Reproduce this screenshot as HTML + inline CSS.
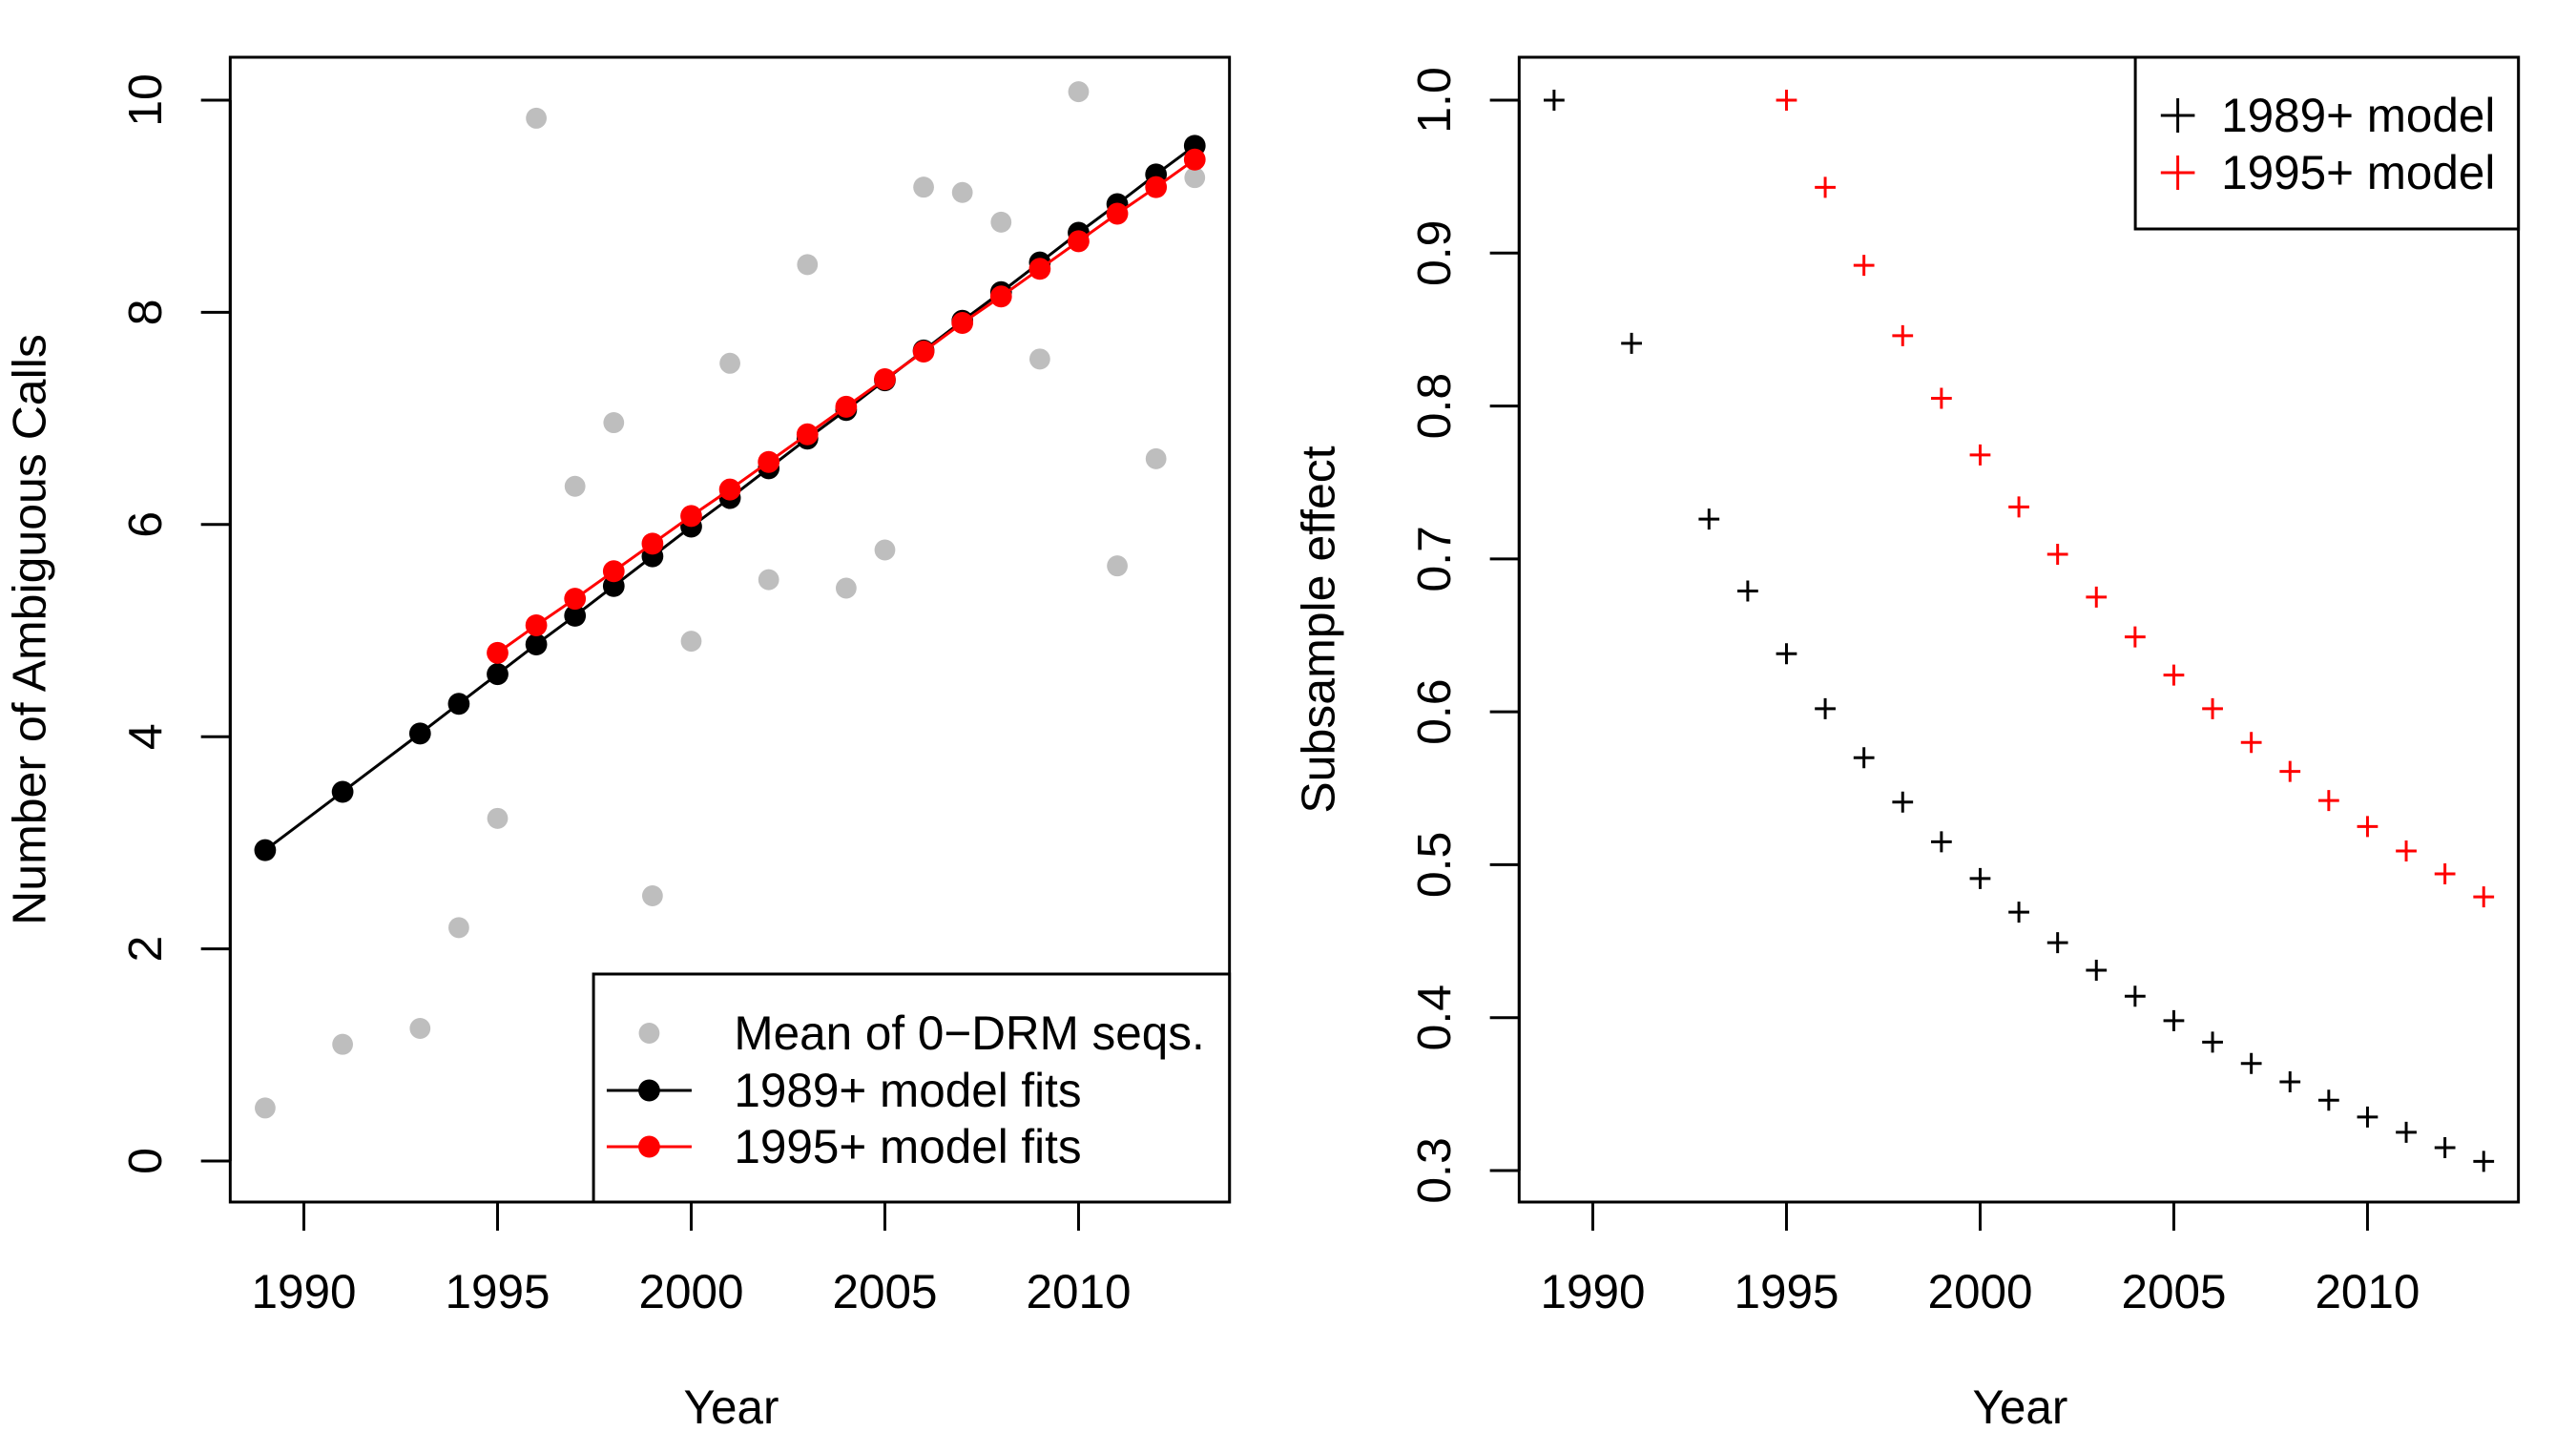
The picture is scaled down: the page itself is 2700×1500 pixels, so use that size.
<!DOCTYPE html>
<html><head><meta charset="utf-8"><style>
html,body{margin:0;padding:0;background:#fff;}
svg{display:block;font-family:"Liberation Sans",Arial,sans-serif;}
</style></head><body>
<svg id="chart" width="2700" height="1500" viewBox="0 0 2700 1500" xmlns="http://www.w3.org/2000/svg"><g id="root" transform="scale(0.989,1)"></g></svg>
<script>
const yearsAll = [1989,1991,1993,1994,1995,1996,1997,1998,1999,2000,2001,2002,2003,2004,2005,2006,2007,2008,2009,2010,2011,2012,2013];
const years95 = [1995,1996,1997,1998,1999,2000,2001,2002,2003,2004,2005,2006,2007,2008,2009,2010,2011,2012,2013];
const meanZeroDRM = [0.5,1.1,1.25,2.2,3.23,9.83,6.36,6.96,2.5,4.9,7.52,5.48,8.45,5.4,5.76,9.18,9.13,8.85,7.56,10.08,5.61,6.62,9.27];
const fit1989 = [2.93,3.48,4.03,4.31,4.59,4.87,5.14,5.42,5.70,5.98,6.25,6.53,6.81,7.08,7.36,7.64,7.92,8.19,8.47,8.75,9.02,9.30,9.57];
const fit1995 = [4.79,5.05,5.30,5.56,5.82,6.08,6.33,6.59,6.85,7.11,7.37,7.63,7.90,8.15,8.41,8.67,8.93,9.18,9.44];
const sub1989 = [1.0,0.841,0.726,0.679,0.638,0.602,0.570,0.541,0.515,0.491,0.469,0.449,0.431,0.414,0.398,0.384,0.370,0.358,0.346,0.335,0.325,0.315,0.306];
const sub1995 = [1.0,0.943,0.892,0.846,0.805,0.768,0.734,0.703,0.675,0.649,0.624,0.602,0.580,0.561,0.542,0.525,0.509,0.494,0.479];
const xTicks = [1990,1995,2000,2005,2010];
const yTicksL = [0,2,4,6,8,10];
const yTicksR = [0.3,0.4,0.5,0.6,0.7,0.8,0.9,1.0];

const NS="http://www.w3.org/2000/svg";
const svg=document.getElementById('root');
function mk(tag,attrs,parent,text){const e=document.createElementNS(NS,tag);for(const k in attrs)e.setAttribute(k,attrs[k]);if(text!==undefined)e.textContent=text;(parent||svg).appendChild(e);return e;}

const TOP=60, BOT=1260, FS=50;
function panel(off, yMin, yMax, y0px, y1px, yTicks, yFmt, ytitle, name){
  const g=mk('g',{});
  
  
  const X=v=>off+281+(v-1989)*41.05;
  const Y=v=>y0px+(v-yMin)/(yMax-yMin)*(y1px-y0px);
  const box=mk('rect',{x:off+244,y:TOP,width:1059,height:BOT-TOP,fill:'none',stroke:'#000','stroke-width':3},g);
  
  
  const xa=mk('g',{},g);
  
  
  mk('line',{x1:X(xTicks[0]),x2:X(xTicks[xTicks.length-1]),y1:BOT,y2:BOT,stroke:'#000','stroke-width':3},xa);
  xTicks.forEach(t=>{
    mk('line',{x1:X(t),x2:X(t),y1:BOT,y2:BOT+30,stroke:'#000','stroke-width':3},xa);
    const tl=mk('text',{x:X(t),y:1371,'font-size':FS,'text-anchor':'middle'},xa,String(t));
    
    
  });
  const xt=mk('text',{x:off+775,y:1492,'font-size':FS,'text-anchor':'middle'},g,'Year');
  
  
  const ya=mk('g',{},g);
  
  
  mk('line',{x1:off+244,x2:off+244,y1:Y(yTicks[0]),y2:Y(yTicks[yTicks.length-1]),stroke:'#000','stroke-width':3},ya);
  yTicks.forEach(t=>{
    mk('line',{x1:off+213,x2:off+244,y1:Y(t),y2:Y(t),stroke:'#000','stroke-width':3},ya);
    const tl=mk('text',{x:0,y:0,'font-size':FS,'text-anchor':'middle',transform:`translate(${off+171},${Y(t)}) rotate(-90)`},ya,yFmt(t));
    
    
  });
  const yt=mk('text',{x:0,y:0,'font-size':FS,'text-anchor':'middle',transform:`translate(${off+48},660) rotate(-90)`},g,ytitle);
  
  
  return {g,X,Y};
}

// Left panel
const L=panel(0,0,10,1217,105,yTicksL,t=>String(t),'Number of Ambiguous Calls','left-panel');
yearsAll.forEach((yr,i)=>{
  const c=mk('circle',{cx:L.X(yr),cy:L.Y(meanZeroDRM[i]),r:11,fill:'#bebebe'},L.g);
  
  
});
function lineSeries(xs,ys,color,name){
  const p=mk('polyline',{points:xs.map((x,i)=>L.X(x)+','+L.Y(ys[i])).join(' '),fill:'none',stroke:color,'stroke-width':3},L.g);
  
  
  xs.forEach((x,i)=>{
    const c=mk('circle',{cx:L.X(x),cy:L.Y(ys[i]),r:11.5,fill:color},L.g);
    
    
  });
}
lineSeries(yearsAll,fit1989,'#000','fit-1989');
lineSeries(years95,fit1995,'#ff0000','fit-1995');
// left legend
const lg=mk('g',{});


mk('rect',{x:629,y:1021,width:674,height:239,fill:'#fff',stroke:'#000','stroke-width':3},lg);
mk('circle',{cx:688,cy:1083,r:11,fill:'#bebebe'},lg);
mk('line',{x1:643,x2:733,y1:1143,y2:1143,stroke:'#000','stroke-width':3},lg);
mk('circle',{cx:688,cy:1143,r:11.5,fill:'#000'},lg);
mk('line',{x1:643,x2:733,y1:1202,y2:1202,stroke:'#ff0000','stroke-width':3},lg);
mk('circle',{cx:688,cy:1202,r:11.5,fill:'#ff0000'},lg);
[['Mean of 0\u2212DRM seqs.',1083],['1989+ model fits',1143],['1995+ model fits',1202]].forEach(([t,y])=>{
  const e=mk('text',{x:778,y:y+17,'font-size':FS},lg,t);
  
  
});

// Right panel
const R=panel(1366,0.3,1.0,1227,105,yTicksR,t=>t.toFixed(1),'Subsample effect','right-panel');
function plus(g,x,y,h,color,name){
  const p=mk('path',{d:`M${x-h},${y}H${x+h}M${x},${y-h}V${y+h}`,stroke:color,'stroke-width':3,fill:'none'},g);
  
  
}
yearsAll.forEach((yr,i)=>plus(R.g,R.X(yr),R.Y(sub1989[i]),11,'#000','subsample-1989-point'));
years95.forEach((yr,i)=>plus(R.g,R.X(yr),R.Y(sub1995[i]),11,'#ff0000','subsample-1995-point'));
const rg=mk('g',{});


mk('rect',{x:2263,y:60,width:406,height:180,fill:'#fff',stroke:'#000','stroke-width':3},rg);
plus(rg,2308,121,18,'#000','legend-marker');
plus(rg,2308,181,18,'#ff0000','legend-marker');
[['1989+ model',121],['1995+ model',181]].forEach(([t,y])=>{
  const e=mk('text',{x:2354,y:y+17,'font-size':FS},rg,t);
  
  
});
</script>
</body></html>
